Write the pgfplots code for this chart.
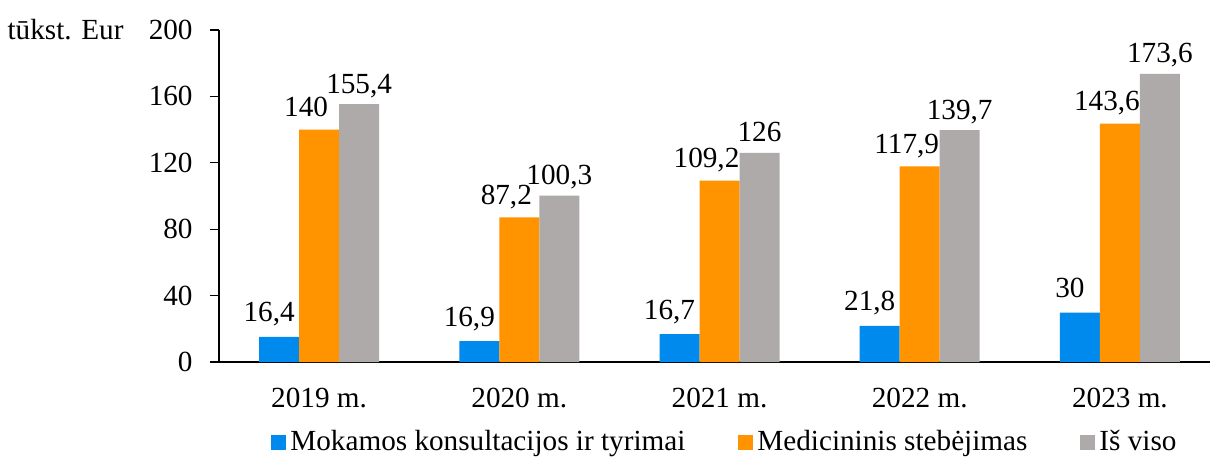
\documentclass[border=0pt]{standalone}
\usepackage{fontspec}
\setmainfont{Liberation Serif}
\usepackage{pgfplots}
\pgfplotsset{compat=1.18}
\usepackage{pgfplotstable}

\definecolor{cblue}{HTML}{008AEE}
\definecolor{corange}{HTML}{FF9300}
\definecolor{cgray}{HTML}{AEAAAA}
\newcommand{\fs}{\fontsize{14.6pt}{17pt}\selectfont}

% bar heights as drawn; labels as printed
\pgfplotstableread{
x y label
0 15.1 16,4
1 12.6 16,9
2 16.8 16,7
3 21.7 21,8
4 29.8 30
}\mokamos
\pgfplotstableread{
x y label
0 140 140
1 87.2 87,2
2 109.2 109,2
3 117.9 117,9
4 143.6 143,6
}\stebejimas
\pgfplotstableread{
x y label
0 155.4 155,4
1 100.3 100,3
2 126 126
3 139.7 139,7
4 173.6 173,6
}\isviso

\begin{document}
\begin{tikzpicture}
\begin{axis}[
    width=495.5pt, height=166pt, scale only axis,
    xmin=-0.5, xmax=4.45, ymin=0, ymax=200,
    axis x line*=bottom, axis y line*=left,
    ytick={0,40,...,200},
    xtick={0,...,4},
    xticklabels={2019 m.,2020 m.,2021 m.,2022 m.,2023 m.},
    minor xtick={-0.5,0.5,...,3.5},
    xtick style={draw=none},
    tick align=outside,
    major tick length=4.5pt, minor tick length=4pt,
    tick style={black, line width=0.6pt},
    axis line style={line width=0.6pt},
    ybar=0pt, bar width=20pt,
    tick label style={font=\fs},
    /pgf/number format/assume math mode=true,
    yticklabel style={anchor=east, inner sep=0pt, xshift=-8.5pt},
    xticklabel style={anchor=base, inner sep=0pt, yshift=-18pt},
    nodes near coords, point meta=explicit symbolic,
    nodes near coords style={font=\fs, anchor=base, inner sep=0pt, black},
    clip=false,
    legend style={at={(0.0525,-0.241)}, anchor=west, draw=none, inner sep=0pt,
        legend columns=-1, font=\fs,
        /tikz/every odd column/.append style={column sep=0pt},
        /tikz/every even column/.append style={column sep=24.5pt}},
    legend image code/.code={\fill[#1] (0pt,-3.75pt) rectangle (7.5pt,3.75pt);},
]
\addplot[fill=cblue, draw=none,
    every node near coord/.append style={xshift=-5pt, yshift=7.5pt}]
    table[x=x, y=y, meta=label] {\mokamos};
\addplot[fill=corange, draw=none,
    every node near coord/.append style={xshift=-6.5pt, yshift=6.5pt}]
    table[x=x, y=y, meta=label] {\stebejimas};
\addplot[fill=cgray, draw=none,
    every node near coord/.append style={yshift=5.5pt}]
    table[x=x, y=y, meta=label] {\isviso};
\legend{Mokamos konsultacijos ir tyrimai, Medicininis stebėjimas, Iš viso}
\node[anchor=base east, font=\fs, inner sep=0pt] at (rel axis cs:-0.0959,0.9714) {tūkst. Eur};
\coordinate (bbA) at (rel axis cs:-0.221,1.0904);
\coordinate (bbB) at (rel axis cs:1,-0.2861);
\end{axis}
\pgfresetboundingbox
\useasboundingbox (bbA) rectangle (bbB);
\end{tikzpicture}
\end{document}
